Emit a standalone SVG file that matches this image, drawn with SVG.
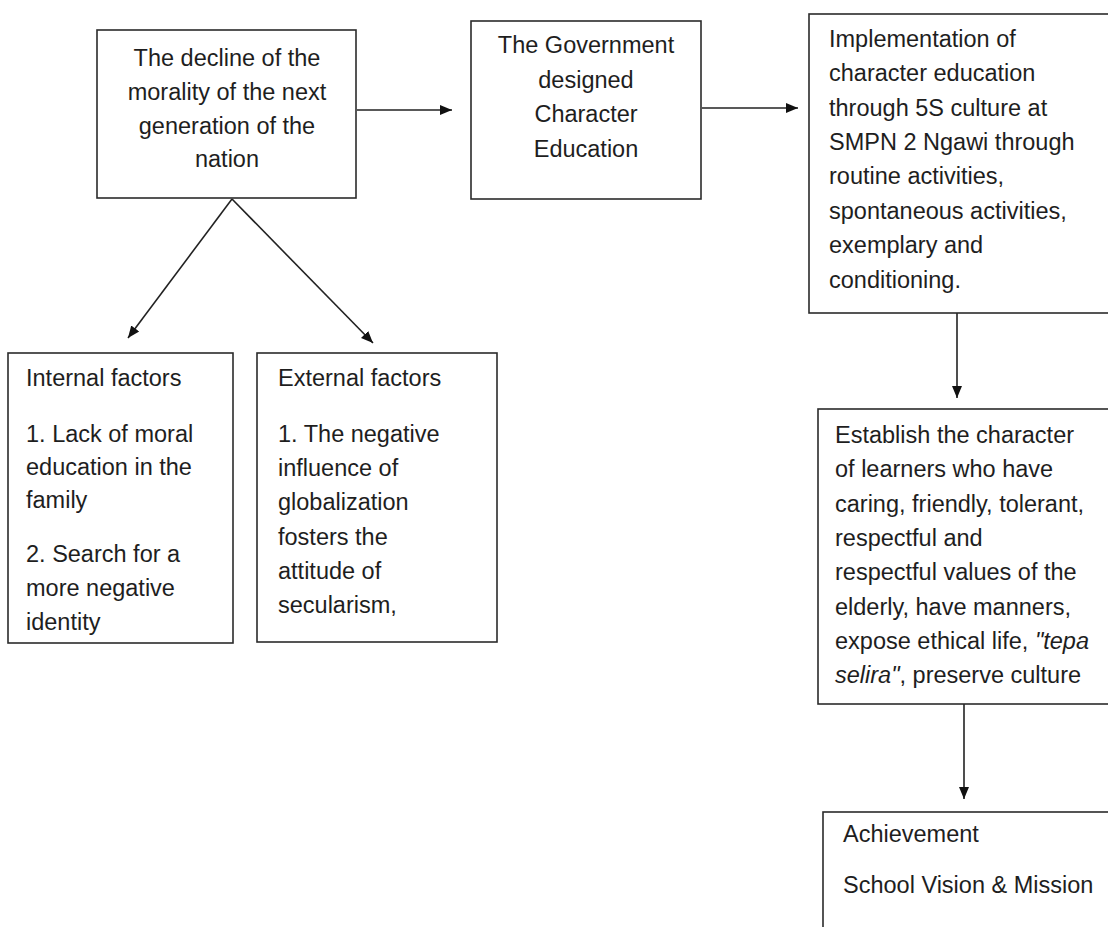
<svg xmlns="http://www.w3.org/2000/svg" width="1108" height="927" viewBox="0 0 1108 927">
<style>
.box{fill:#fff;stroke:#2b2b2b;stroke-width:1.6}
.t{font-family:"Liberation Sans",Arial,sans-serif;font-size:23.5px;fill:#1e1e1e}
.c{text-anchor:middle}
.ln{stroke:#222;stroke-width:1.6;fill:none}
</style>
<defs>
<marker id="ah" markerUnits="userSpaceOnUse" markerWidth="12" markerHeight="12" viewBox="0 0 12 10" refX="12" refY="5" orient="auto">
<path d="M0,0 L12,5 L0,10 Z" fill="#111"/>
</marker>
</defs>
<rect width="1108" height="927" fill="#fff"/>
<g id="connectors">
<line class="ln" x1="357" y1="110" x2="452" y2="110" marker-end="url(#ah)"/>
<line class="ln" x1="702" y1="108" x2="798" y2="108" marker-end="url(#ah)"/>
<line class="ln" x1="232" y1="199" x2="128" y2="338" marker-end="url(#ah)"/>
<line class="ln" x1="232" y1="199" x2="373" y2="343" marker-end="url(#ah)"/>
<line class="ln" x1="957" y1="313" x2="957" y2="398" marker-end="url(#ah)"/>
<line class="ln" x1="964" y1="704" x2="964" y2="799" marker-end="url(#ah)"/>
</g>
<g id="decline">
<rect class="box" x="97" y="30" width="259" height="168"/>
<text class="t c" x="227" y="66">The decline of the</text>
<text class="t c" x="227" y="100">morality of the next</text>
<text class="t c" x="227" y="134">generation of the</text>
<text class="t c" x="227" y="167">nation</text>
</g>
<g id="government">
<rect class="box" x="471" y="21" width="230" height="178"/>
<text class="t c" x="586" y="53">The Government</text>
<text class="t c" x="586" y="88">designed</text>
<text class="t c" x="586" y="122">Character</text>
<text class="t c" x="586" y="157">Education</text>
</g>
<g id="implementation">
<rect class="box" x="809" y="14" width="320" height="299"/>
<text class="t" x="829" y="47">Implementation of</text>
<text class="t" x="829" y="81">character education</text>
<text class="t" x="829" y="116">through 5S culture at</text>
<text class="t" x="829" y="150">SMPN 2 Ngawi through</text>
<text class="t" x="829" y="184">routine activities,</text>
<text class="t" x="829" y="219">spontaneous activities,</text>
<text class="t" x="829" y="253">exemplary and</text>
<text class="t" x="829" y="288">conditioning.</text>
</g>
<g id="internal">
<rect class="box" x="8" y="353" width="225" height="290"/>
<text class="t" x="26" y="386">Internal factors</text>
<text class="t" x="26" y="442">1. Lack of moral</text>
<text class="t" x="26" y="475">education in the</text>
<text class="t" x="26" y="508">family</text>
<text class="t" x="26" y="562">2. Search for a</text>
<text class="t" x="26" y="596">more negative</text>
<text class="t" x="26" y="630">identity</text>
</g>
<g id="external">
<rect class="box" x="257" y="353" width="240" height="289"/>
<text class="t" x="278" y="386">External factors</text>
<text class="t" x="278" y="442">1. The negative</text>
<text class="t" x="278" y="476">influence of</text>
<text class="t" x="278" y="510">globalization</text>
<text class="t" x="278" y="545">fosters the</text>
<text class="t" x="278" y="579">attitude of</text>
<text class="t" x="278" y="613">secularism,</text>
</g>
<g id="establish">
<rect class="box" x="818" y="409" width="320" height="295"/>
<text class="t" x="835" y="443">Establish the character</text>
<text class="t" x="835" y="477">of learners who have</text>
<text class="t" x="835" y="512">caring, friendly, tolerant,</text>
<text class="t" x="835" y="546">respectful and</text>
<text class="t" x="835" y="580">respectful values of the</text>
<text class="t" x="835" y="615">elderly, have manners,</text>
<text class="t" x="835" y="649">expose ethical life, <tspan font-style="italic">"tepa</tspan></text>
<text class="t" x="835" y="683"><tspan font-style="italic">selira"</tspan>, preserve culture</text>
</g>
<g id="achievement">
<rect class="box" x="823" y="812" width="320" height="140"/>
<text class="t" x="843" y="842">Achievement</text>
<text class="t" x="843" y="893">School Vision &amp; Mission</text>
</g>
</svg>
